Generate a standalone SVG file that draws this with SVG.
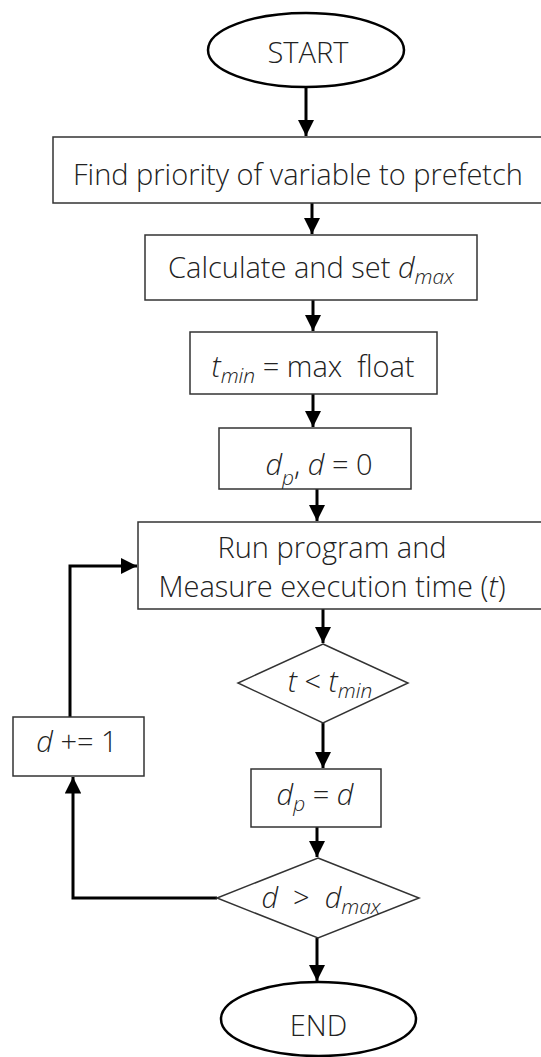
<svg xmlns="http://www.w3.org/2000/svg" width="541" height="1057" viewBox="0 0 541 1057">
<style>
.box{fill:#fff;stroke:#333;stroke-width:1.5}
.term{fill:#fff;stroke:#000;stroke-width:2.5}
.t{font-family:"Open Sans","Noto Sans",sans-serif;font-size:29px;font-weight:300;fill:#222;text-anchor:middle}
.i{font-style:italic}
.s{font-size:21px;font-style:italic}
.c{fill:none;stroke:#000;stroke-width:3}
</style>
<defs>
<marker id="ah" viewBox="0 0 10 10" refX="10" refY="5" markerWidth="5.5" markerHeight="5.5" orient="auto" markerUnits="strokeWidth">
<path d="M0,0 L10,5 L0,10 z" fill="#000"/>
</marker>
<clipPath id="clipdp"><rect x="219" y="428" width="192" height="61"/></clipPath>
</defs>
<g id="connectors">
<path class="c" d="M306,88 V136" marker-end="url(#ah)"/>
<path class="c" d="M312,203 V234" marker-end="url(#ah)"/>
<path class="c" d="M313,300 V331" marker-end="url(#ah)"/>
<path class="c" d="M313,394 V427" marker-end="url(#ah)"/>
<path class="c" d="M317,489 V521" marker-end="url(#ah)"/>
<path class="c" d="M323,609 V643" marker-end="url(#ah)"/>
<path class="c" d="M323,723 V768" marker-end="url(#ah)"/>
<path class="c" d="M317,827 V857" marker-end="url(#ah)"/>
<path class="c" d="M317,938 V981" marker-end="url(#ah)"/>
<path class="c" d="M217,898 H73 V777" marker-end="url(#ah)"/>
<path class="c" d="M70,717 V566 H137" marker-end="url(#ah)"/>
</g>
<g id="start">
<ellipse class="term" cx="306" cy="50" rx="98" ry="37"/>
<text class="t" x="308" y="63">START</text>
</g>
<g id="find">
<rect class="box" x="53" y="137" width="500" height="66"/>
<text class="t" x="298" y="185">Find priority of variable to prefetch</text>
</g>
<g id="calc">
<rect class="box" x="145" y="235" width="332" height="65"/>
<text class="t" x="311" y="278">Calculate and set <tspan class="i">d</tspan><tspan class="s" dy="6">max</tspan></text>
</g>
<g id="tmin">
<rect class="box" x="190" y="332" width="247" height="62"/>
<text class="t" x="313" y="377" xml:space="preserve"><tspan class="i">t</tspan><tspan class="s" dy="6">min</tspan><tspan dy="-6"> = max  float</tspan></text>
</g>
<g id="init">
<rect class="box" x="219" y="428" width="192" height="61"/>
<text class="t" x="319" y="475" clip-path="url(#clipdp)"><tspan class="i">d</tspan><tspan class="s" dy="10">p</tspan><tspan dy="-10">, </tspan><tspan class="i">d</tspan> = 0</text>
</g>
<g id="run">
<rect class="box" x="138" y="522" width="420" height="87"/>
<text class="t" x="332" y="558">Run program and</text>
<text class="t" x="332" y="597">Measure execution time (<tspan class="i">t</tspan>)</text>
</g>
<g id="cond1">
<polygon class="box" points="323,644 408,683 323,723 238,683"/>
<text class="t" x="330" y="692"><tspan class="i">t</tspan> &lt; <tspan class="i">t</tspan><tspan class="s" dy="6">min</tspan></text>
</g>
<g id="dinc">
<rect class="box" x="13" y="717" width="131" height="59"/>
<text class="t" x="77" y="752"><tspan class="i">d</tspan> += 1</text>
</g>
<g id="assign">
<rect class="box" x="251" y="769" width="130" height="58"/>
<text class="t" x="315" y="805"><tspan class="i">d</tspan><tspan class="s" dy="6">p</tspan><tspan dy="-6"> = </tspan><tspan class="i">d</tspan></text>
</g>
<g id="cond2">
<polygon class="box" points="318,858 419,898 318,938 217,898"/>
<text class="t" x="321" y="908" xml:space="preserve"><tspan class="i">d</tspan>  &gt;  <tspan class="i">d</tspan><tspan class="s" dy="6">max</tspan></text>
</g>
<g id="end">
<ellipse class="term" cx="318.5" cy="1019" rx="97.5" ry="37"/>
<text class="t" x="318.5" y="1036">END</text>
</g>
</svg>
